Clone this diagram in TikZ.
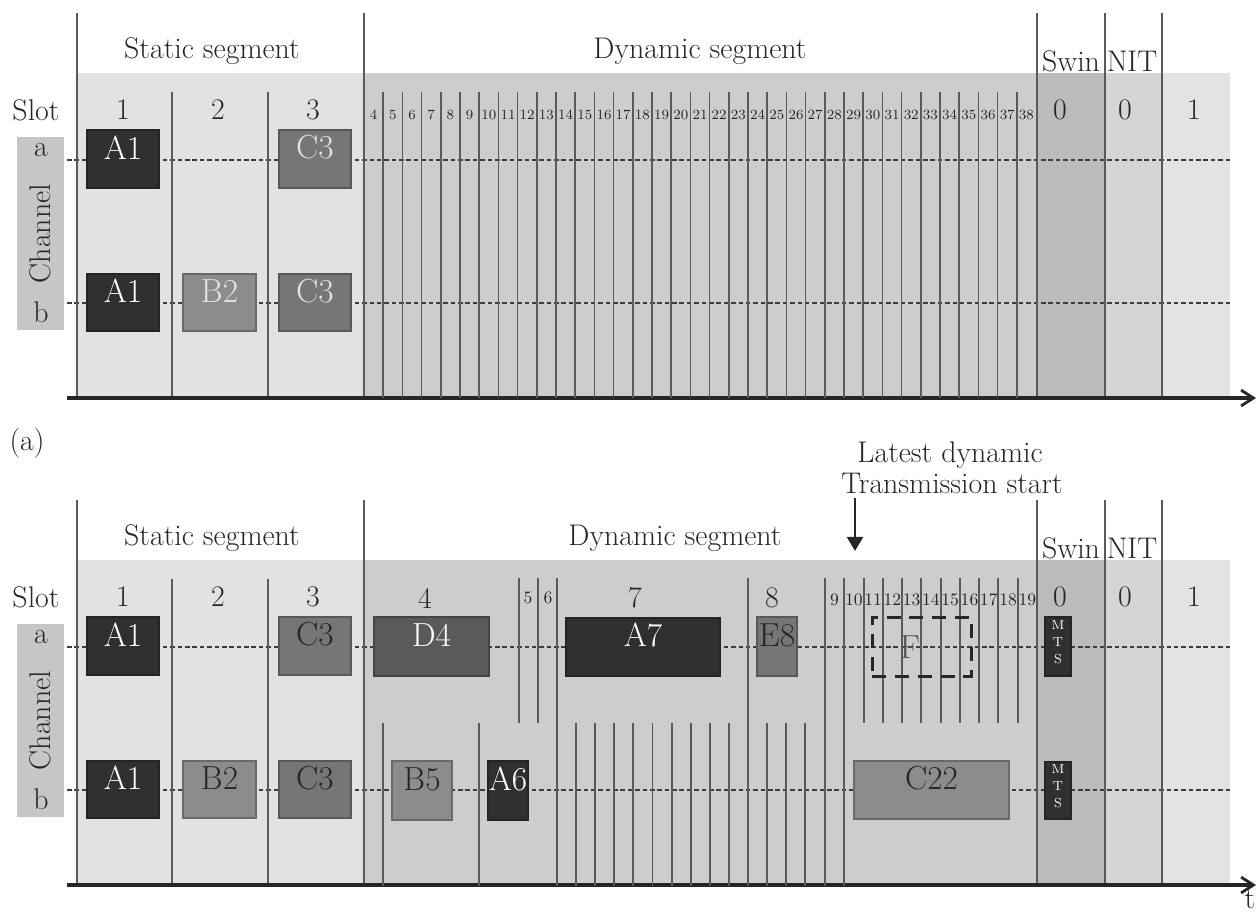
\documentclass[tikz,border=0pt]{standalone}
\usepackage{fontspec}
\usepackage{tikz}
\usetikzlibrary{arrows.meta,positioning,calc,fit}
\definecolor{cInk}{HTML}{262626}
\definecolor{cLine}{HTML}{5A5A5A}
\definecolor{cPale}{HTML}{E4E4E4}
\definecolor{cStat}{HTML}{E2E2E2}
\definecolor{cDyn}{HTML}{CDCDCD}
\definecolor{cSwin}{HTML}{BBBBBB}
\definecolor{cNit}{HTML}{D5D5D5}
\definecolor{cIdle}{HTML}{E3E3E3}
\definecolor{cChan}{HTML}{C6C6C6}
\definecolor{fDark}{HTML}{303030}
\definecolor{fMid}{HTML}{5A5A5A}
\definecolor{fGray}{HTML}{767676}
\definecolor{fLight}{HTML}{8C8C8C}
\tikzset{
  fbox/.style={draw=#1!75!black,fill=#1,line width=0.6pt,inner sep=0pt,font=\fontsize{19}{22}\selectfont},
  slotln/.style={draw=cLine,line width=1.1pt},
  dashln/.style={draw=cInk!90,line width=1.4pt,dash pattern=on 2.6pt off 1.6pt},
  axisln/.style={draw=cInk,line width=2pt,-{Straight Barb[length=7pt,width=9pt,line width=1.6pt]}},
  darr/.style={draw=cInk,line width=1.6pt,-{Triangle[length=8pt,width=9pt]}},
  lbl/.style={font=\fontsize{17}{20}\selectfont,text=cInk,inner sep=0pt},
  minilbl/.style={font=\fontsize{8}{9}\selectfont,text=cInk,inner sep=0pt},
  midlbl/.style={font=\fontsize{10}{11}\selectfont,text=cInk,inner sep=0pt},
  mts/.style={fbox=fDark,text=white,align=center,font=\fontsize{7.5}{9.8}\selectfont},
}

\begin{document}
\begin{tikzpicture}[x=0.02cm,y=-0.02cm]
  \useasboundingbox (0,0) rectangle (1257,914);
  % both panels share the static part, the bands and the axis
  \foreach \dy/\tc/\dx in {0/cPale/700,487/cInk/675}{
    \begin{scope}[shift={(0,\dy)}]
      \fill[cStat] (77,73) rectangle (364,398);
      \fill[cDyn] (364,73) rectangle (1037,398);
      \fill[cSwin] (1037,73) rectangle (1105,398);
      \fill[cNit] (1105,73) rectangle (1162,398);
      \fill[cIdle] (1162,73) rectangle (1230,398);
      \node[fill=cChan,inner sep=0pt,fit={(17,137) (64,330)}] (chan\dy) {};
      \node[lbl,rotate=90] (chtxt\dy) at (chan\dy) {Channel};
      \node[lbl] (cha\dy) at (41,150) {a};
      \node[lbl] (chb\dy) at (41,312) {b};
      \coordinate (da0\dy) at (67,160); \coordinate (da1\dy) at (1230,160);
      \coordinate (db0\dy) at (67,303); \coordinate (db1\dy) at (1230,303);
      \draw[dashln] (da0\dy) -- (da1\dy);
      \draw[dashln] (db0\dy) -- (db1\dy);
      \foreach \x in {77,364,1037,1105,1162} \draw[slotln] (\x,13) -- (\x,398);
      \foreach \x in {172,268} \draw[slotln] (\x,92) -- (\x,398);
      \coordinate (ax0\dy) at (67,398); \coordinate (ax1\dy) at (1256,398);
      \draw[axisln] (ax0\dy) -- (ax1\dy);
      \node[lbl] (stat\dy) at (212,51) {Static segment};
      \node[lbl] (dyn\dy) at (\dx,51) {Dynamic segment};
      \node[lbl] (swin\dy) at (1071,61) {Swin};
      \node[lbl] (nit\dy) at (1132,61) {NIT};
      \node[lbl] (slot\dy) at (36,110) {Slot};
      \foreach \n/\x in {1/123,2/218,3/313} \node[lbl] (s\n-\dy) at (\x,110) {\n};
      \foreach \n/\x [count=\k] in {0/1060,0/1125,1/1194} \node[lbl] (z\k-\dy) at (\x,110) {\n};
      \node[fbox=fDark,text=white,fit={(87,130) (159,188)}] (A1a\dy) {A1};
      \node[fbox=fGray,text=\tc,fit={(279,130) (351,188)}] (C3a\dy) {C3};
      \node[fbox=fDark,text=white,fit={(87,274) (159,331)}] (A1b\dy) {A1};
      \node[fbox=fLight,text=\tc,fit={(183,274) (256,331)}] (B2b\dy) {B2};
      \node[fbox=fGray,text=\tc,fit={(279,274) (351,331)}] (C3b\dy) {C3};
    \end{scope}}

  % (a) minislots
  \foreach \i in {1,...,34} \draw[slotln,line width=1pt] ({364+19.2*\i},92) -- ({364+19.2*\i},398);
  \foreach \n [count=\i from 0] in {4,...,38} \node[minilbl] (m\n) at ({373.6+19.2*\i},115) {\n};
  \node[lbl] (pa) at (27,443) {(a)};

  % (b) channel a only
  \foreach \x in {519,538} \draw[slotln] (\x,578) -- (\x,723);
  \foreach \i in {2,...,10} \draw[slotln] ({825+19.27*\i},578) -- ({825+19.27*\i},723);
  % (b) both channels
  \foreach \x in {557,748,825,844} \draw[slotln] (\x,578) -- (\x,886);
  % (b) channel b only
  \foreach \x in {383,479} \draw[slotln] (\x,723) -- (\x,886);
  \foreach \i in {1,...,9,11,12,13} \draw[slotln] ({557+19.1*\i},723) -- ({557+19.1*\i},886);

  \node[lbl] (n4) at (425,598) {4};
  \node[midlbl] (n5) at (528,598) {5};
  \node[midlbl] (n6) at (548,598) {6};
  \node[lbl] (n7) at (635,598) {7};
  \node[lbl] (n8) at (772,598) {8};
  \foreach \n [count=\i from 0] in {9,...,19} \node[midlbl] (n\n) at ({834.6+19.27*\i},600) {\n};

  \node[fbox=fMid,text=white,fit={(374,617) (489,676)}] (D4) {D4};
  \node[fbox=fDark,text=white,fit={(566,618) (720,676)}] (A7) {A7};
  \node[fbox=fGray,text=cInk,fit={(757,617) (797,676)}] (E8) {E8};
  \node[fbox=fLight,text=cInk,fit={(392,761) (452,820)}] (B5) {B5};
  \node[fbox=fDark,text=white,fit={(488,761) (528,820)}] (A6) {A6};
  \node[fbox=fLight,text=cInk,fit={(854,761) (1009,819)}] (C22) {C22};
  \node[draw=cInk,line width=1.7pt,dash pattern=on 8pt off 5pt,inner sep=0pt,fit={(872,617) (971,676)}] (Fbox) {};
  \node[lbl,text=cInk!80,font=\fontsize{19}{22}\selectfont] (Ftxt) at (910,647) {F};
  \node[mts,fit={(1045,617) (1071,676)}] (MTSa) {M\\T\\S};
  \node[mts,fit={(1045,762) (1071,819)}] (MTSb) {M\\T\\S};

  \node[lbl] (late1) at (950,455) {Latest dynamic};
  \node[lbl] (late2) at (952,483) {Transmission start};
  \coordinate (lt0) at (855,498); \coordinate (lt1) at (855,551);
  \draw[darr] (lt0) -- (lt1);
  \node[lbl] (tlbl) at (1250,899) {t};
\end{tikzpicture}
\end{document}
